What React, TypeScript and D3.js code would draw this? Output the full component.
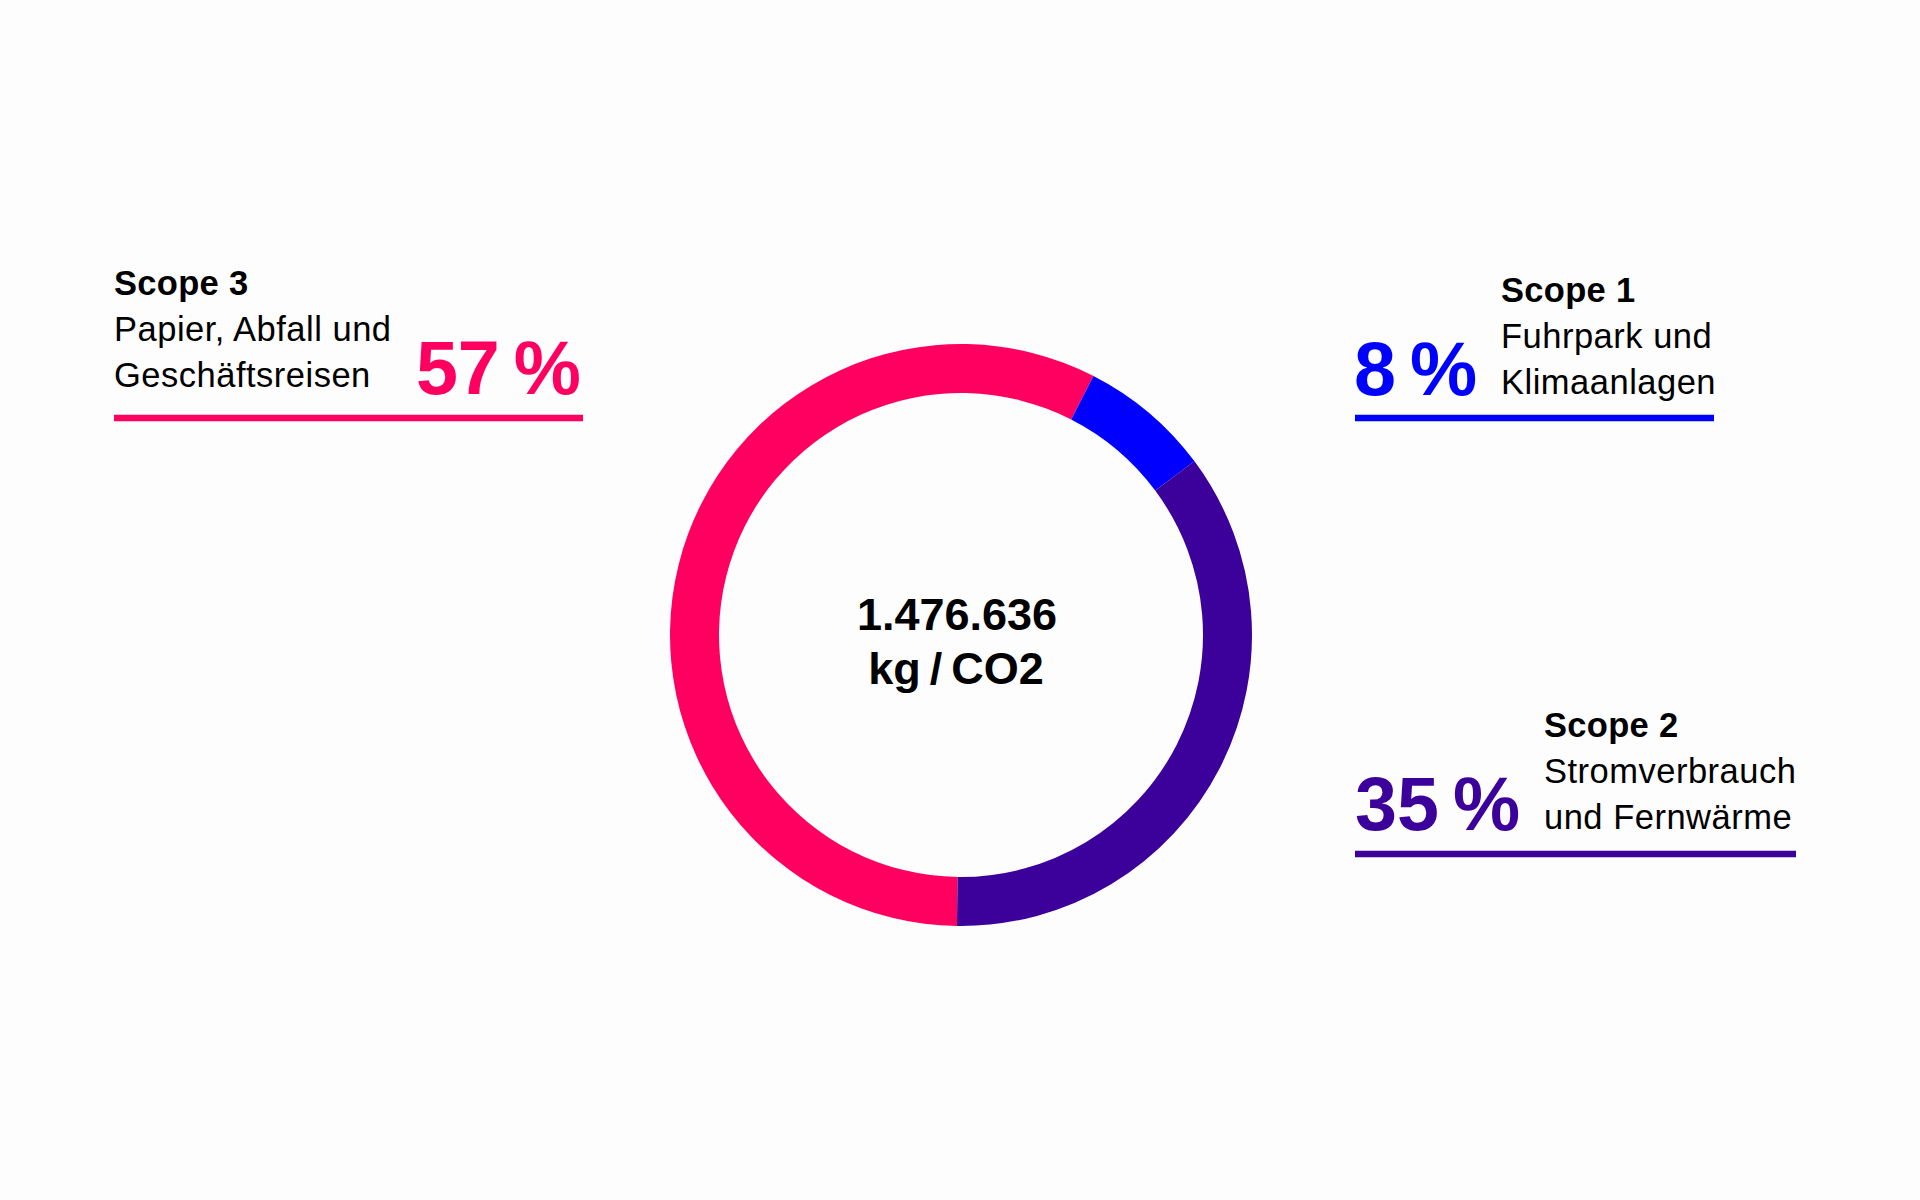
import React from "react";
import * as d3 from "d3";

// ---- data ----
const scopeTitles = ["Scope 3", "Scope 1", "Scope 2"];
const arcShares = [57.3, 7.3, 35.4];
const percentLabels = ["57", "8", "35"];
const descriptions = [
  ["Papier, Abfall und", "Geschäftsreisen"],
  ["Fuhrpark und", "Klimaanlagen"],
  ["Stromverbrauch", "und Fernwärme"],
];
const seriesColors = ["#ff0060", "#0000ff", "#3c009b"];
const totalValue = "1.476.636";
const totalUnit = "kg\u2009/\u2009CO2";

// ---- layout ----
const W = 1920;
const H = 1200;
const CX = 961;
const CY = 635;
const R_OUT = 291;
const R_IN = 242;
const FONT = "'Liberation Sans', Arial, Helvetica, sans-serif";

type LabelLayout = {
  side: "left" | "right";
  textX: number;
  titleY: number;
  pctX: number;
  pctY: number;
  lineX1: number;
  lineX2: number;
  lineY: number;
};

const labelLayout: LabelLayout[] = [
  { side: "left", textX: 114, titleY: 295, pctX: 581, pctY: 394, lineX1: 114, lineX2: 583, lineY: 418 },
  { side: "right", textX: 1501, titleY: 302, pctX: 1354, pctY: 395, lineX1: 1355, lineX2: 1714, lineY: 418 },
  { side: "right", textX: 1544, titleY: 737, pctX: 1355, pctY: 830, lineX1: 1355, lineX2: 1796, lineY: 854 },
];

export default function App() {
  const offset = 0.014;
  const pie = d3
    .pie<number>()
    .sort(null)
    .value((d) => d)
    .startAngle(Math.PI + offset)
    .endAngle(3 * Math.PI + offset);
  const arcs = pie(arcShares);
  const arcGen = d3.arc<d3.PieArcDatum<number>>().innerRadius(R_IN).outerRadius(R_OUT);

  return (
    <svg
      width={W}
      height={H}
      style={{ position: "absolute", left: 0, top: 0, background: "#fdfdfd" }}
      fontFamily={FONT}
    >
      <rect x={0} y={0} width={W} height={H} fill="#fdfdfd" />
      <g transform={`translate(${CX},${CY})`}>
        {arcs.map((a, i) => (
          <path key={i} d={arcGen(a) || ""} fill={seriesColors[i]} />
        ))}
        <text x={-4} y={-5} textAnchor="middle" fontSize={45} fontWeight="bold" fill="#000">
          {totalValue}
        </text>
        <text x={-5} y={49} textAnchor="middle" fontSize={45} fontWeight="bold" fill="#000">
          {totalUnit}
        </text>
      </g>
      {labelLayout.map((L, i) => (
        <g key={i}>
          <text x={L.textX} y={L.titleY} fontSize={34.5} fontWeight="bold" fill="#000" letterSpacing={0.3}>
            {scopeTitles[i]}
          </text>
          {descriptions[i].map((line, j) => (
            <text
              key={j}
              x={L.textX}
              y={L.titleY + 46 * (j + 1)}
              fontSize={34.5}
              letterSpacing={0.5}
              fill="#000"
            >
              {line}
            </text>
          ))}
          <text
            x={L.pctX}
            y={L.pctY}
            fontSize={75.5}
            fontWeight="bold"
            fill={seriesColors[i]}
            textAnchor={L.side === "left" ? "end" : "start"}
          >
            <tspan>{percentLabels[i]}</tspan>
            <tspan dx={14}>%</tspan>
          </text>
          <line
            x1={L.lineX1}
            x2={L.lineX2}
            y1={L.lineY}
            y2={L.lineY}
            stroke={seriesColors[i]}
            strokeWidth={6.5}
          />
        </g>
      ))}
    </svg>
  );
}
